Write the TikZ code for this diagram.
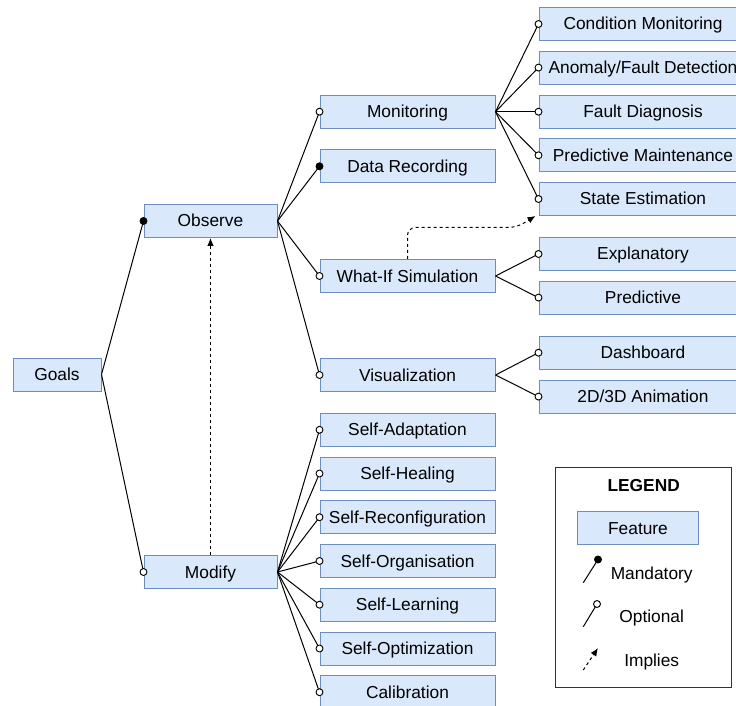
\documentclass[tikz,border=0pt]{standalone}
\usepackage{fontspec}
\setmainfont{Liberation Sans}
\usetikzlibrary{arrows.meta,calc}
\definecolor{featfill}{HTML}{DAE8FC}
\definecolor{featline}{HTML}{6C8EBF}
\definecolor{legline}{HTML}{333333}

\begin{document}
\begin{tikzpicture}[x=0.75pt,y=-0.75pt,
  txt/.style={font=\fontsize{13}{15}\selectfont,text height=9pt,text depth=0pt},
  feat/.style={txt,draw=featline,fill=featfill,line width=0.75pt,minimum height=24.75pt,inner sep=0pt},
  goalbox/.style={feat,minimum width=66pt},
  lvlone/.style={feat,minimum width=99.75pt},
  lvltwo/.style={feat,minimum width=131.25pt},
  lvlthree/.style={feat,minimum width=156pt},
  link/.style={line width=0.75pt},
  optdot/.style={circle,draw,fill=white,line width=0.7pt,inner sep=0pt,minimum size=5.2pt},
  manddot/.style={circle,draw,fill=black,line width=0.7pt,inner sep=0pt,minimum size=5.2pt},
  implies/.style={line width=0.75pt,dash pattern=on 2.25pt off 2.25pt,-{Latex[length=6pt,width=5pt]}},
]
\useasboundingbox (0,0) rectangle (736,706);

% root and first level
\node[goalbox] (goals) at (57,374.5) {Goals};
\node[lvlone] (observe) at (210.5,221) {Observe};
\node[lvlone] (modify) at (210.5,572) {Modify};

% second level
\node[lvltwo] (monitoring) at (407.5,111.7) {Monitoring};
\node[lvltwo] (datarec) at (407.5,166.3) {Data Recording};
\node[lvltwo] (whatif) at (407.5,276) {What-If Simulation};
\node[lvltwo] (visual) at (407.5,375) {Visualization};
\node[lvltwo] (sadapt) at (407.5,429.8) {Self-Adaptation};
\node[lvltwo] (sheal) at (407.5,473.5) {Self-Healing};
\node[lvltwo] (sreconf) at (407.5,517.2) {Self-Reconfiguration};
\node[lvltwo] (sorg) at (407.5,561) {Self-Organisation};
\node[lvltwo] (slearn) at (407.5,604.7) {Self-Learning};
\node[lvltwo] (sopt) at (407.5,648.5) {Self-Optimization};
\node[lvltwo] (calib) at (407.5,692.2) {Calibration};

% third level
\node[lvlthree] (condmon) at (643,24) {Condition Monitoring};
\node[lvlthree] (anomaly) at (643,67.6) {Anomaly/Fault Detection};
\node[lvlthree] (faultdiag) at (643,111.7) {Fault Diagnosis};
\node[lvlthree] (predmaint) at (643,155.3) {Predictive Maintenance};
\node[lvlthree] (stateest) at (643,199) {State Estimation};
\node[lvlthree] (explan) at (643,254) {Explanatory};
\node[lvlthree] (predictive) at (643,297.6) {Predictive};
\node[lvlthree] (dashboard) at (643,352.7) {Dashboard};
\node[lvlthree] (anim) at (643,396.6) {2D/3D Animation};

% tree connectors
\draw[link] (goals.east) -- (observe.west) node[manddot]{};
\draw[link] (goals.east) -- (modify.west) node[optdot]{};

\draw[link] (observe.east) -- (monitoring.west) node[optdot]{};
\draw[link] (observe.east) -- (datarec.west) node[manddot]{};
\draw[link] (observe.east) -- (whatif.west) node[optdot]{};
\draw[link] (observe.east) -- (visual.west) node[optdot]{};

\foreach \c in {sadapt,sheal,sreconf,sorg,slearn,sopt,calib}
  \draw[link] (modify.east) -- (\c.west) node[optdot]{};

\foreach \c in {condmon,anomaly,faultdiag,predmaint,stateest}
  \draw[link] (monitoring.east) -- (\c.west) node[optdot]{};

\foreach \c in {explan,predictive}
  \draw[link] (whatif.east) -- (\c.west) node[optdot]{};

\foreach \c in {dashboard,anim}
  \draw[link] (visual.east) -- (\c.west) node[optdot]{};

% implications
\draw[implies] (modify.north) -- (observe.south);
\coordinate (setip) at ($(stateest.south west)+(-3,0)$);
\coordinate (bend) at ($(stateest.south west)+(-22,11.5)$);
\draw[implies,rounded corners=6pt] (whatif.north) |- (bend) -- (setip);

% legend
\node[draw=legline,line width=0.75pt,minimum width=132pt,minimum height=165.3pt,inner sep=0pt] (legend) at (643.7,577.5) {};
\node[txt,font=\fontsize{13}{15}\selectfont\bfseries] (legtitle) at (643.7,485) {LEGEND};
\node[feat,minimum width=90.75pt] (legfeat) at (638,528) {Feature};

\coordinate (mandlo) at (583.3,582.7);
\coordinate (mandhi) at (598,559.5);
\draw[link] (mandlo) -- (mandhi) node[manddot]{};
\node[txt] (mandtxt) at (651.7,573) {Mandatory};

\coordinate (optlo) at (583.3,626.7);
\coordinate (opthi) at (597,604);
\draw[link] (optlo) -- (opthi) node[optdot]{};
\node[txt] (opttxt) at (651.7,616) {Optional};

\coordinate (implo) at (583.3,670);
\coordinate (imphi) at (598,648);
\draw[implies] (implo) -- (imphi);
\node[txt] (imptxt) at (651.7,660) {Implies};
\end{tikzpicture}
\end{document}
